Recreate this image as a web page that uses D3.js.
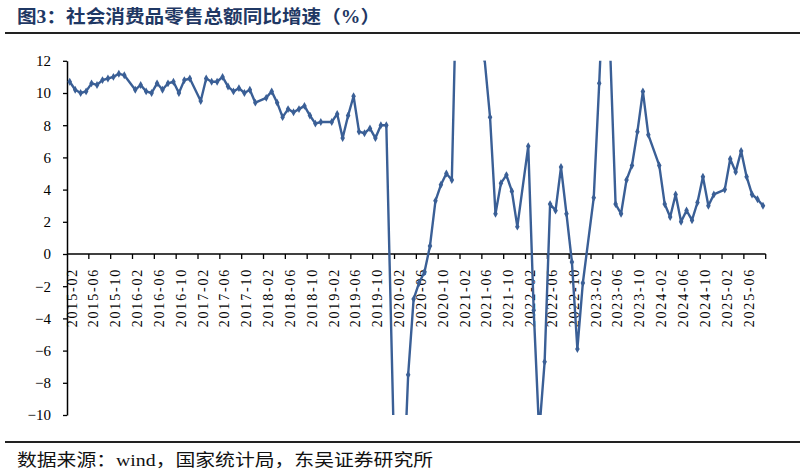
<!DOCTYPE html>
<html>
<head>
<meta charset="utf-8">
<script src="https://cdn.jsdelivr.net/npm/d3@7"></script>
<style>
  body { margin: 0; background: #fff; }
  svg { display: block; }
</style>
</head>
<body>
<div id="chart"></div>
<script>
var width = 805, height = 475;

// monthly categories, 2015-02 .. 2025-09 (January has no separate release)
var startYear = 2015, startMonth = 2, monthCount = 128;
var yTicks = [-10, -8, -6, -4, -2, 0, 2, 4, 6, 8, 10, 12];

// 社会消费品零售总额同比 (%), null = January
var yoy2015 = [10.7, 10.2, 10.0, 10.1, 10.6, 10.5, 10.8, 10.9, 11.0, 11.2, 11.1];
var yoy2016 = [null, 10.2, 10.5, 10.1, 10.0, 10.6, 10.2, 10.6, 10.7, 10.0, 10.8, 10.9];
var yoy2017 = [null, 9.5, 10.9, 10.7, 10.7, 11.0, 10.4, 10.1, 10.3, 10.0, 10.2, 9.4];
var yoy2018 = [null, 9.7, 10.1, 9.4, 8.5, 9.0, 8.8, 9.0, 9.2, 8.6, 8.1, 8.2];
var yoy2019 = [null, 8.2, 8.7, 7.2, 8.6, 9.8, 7.6, 7.5, 7.8, 7.2, 8.0, 8.0];
var yoy2020 = [null, -20.5, -15.8, -7.5, -2.8, -1.8, -1.1, 0.5, 3.3, 4.3, 5.0, 4.6];
var yoy2021 = [null, 33.8, 34.2, 17.7, 12.4, 12.1, 8.5, 2.5, 4.4, 4.9, 3.9, 1.7];
var yoy2022 = [null, 6.7, -3.5, -11.1, -6.7, 3.1, 2.7, 5.4, 2.5, -0.5, -5.9, -1.8];
var yoy2023 = [null, 3.5, 10.6, 18.4, 12.7, 3.1, 2.5, 4.6, 5.5, 7.6, 10.1, 7.4];
var yoy2024 = [null, 5.5, 3.1, 2.3, 3.7, 2.0, 2.7, 2.1, 3.2, 4.8, 3.0, 3.7];
var yoy2025 = [null, 4.0, 5.9, 5.1, 6.4, 4.8, 3.7, 3.4, 3.0];

var values = [].concat(yoy2015, yoy2016, yoy2017, yoy2018, yoy2019, yoy2020,
    yoy2021, yoy2022, yoy2023, yoy2024, yoy2025);

var months = [];
for (var i = 0; i < monthCount; i++) {
    var m = startMonth - 1 + i;
    var yr = startYear + Math.floor(m / 12);
    var mo = (m % 12) + 1;
    months.push(yr + '-' + (mo < 10 ? '0' + mo : mo));
}

var data = months.map(function (d, i) { return { month: d, value: values[i] }; })
    .filter(function (d) { return d.value != null; });

var lineColor = '#3a5f96';

var x = d3.scaleBand().domain(months).range([67, 765.7]);
var y = d3.scaleLinear().domain([-10, 12]).range([415, 60.8]);

var svg = d3.select('#chart').append('svg')
    .attr('width', width)
    .attr('height', height);

// title + rules
svg.append('text')
    .attr('x', 17).attr('y', 23)
    .attr('font-family', 'Liberation Serif, Noto Sans CJK SC')
    .attr('font-weight', 'bold')
    .attr('font-size', 18)
    .attr('fill', '#1f3864')
    .attr('textLength', 363)
    .attr('lengthAdjust', 'spacingAndGlyphs')
    .text('图3：社会消费品零售总额同比增速（%）');

svg.append('line')
    .attr('x1', 5).attr('x2', 800).attr('y1', 33).attr('y2', 33)
    .attr('stroke', '#222').attr('stroke-width', 2.2);

svg.append('line')
    .attr('x1', 5).attr('x2', 800).attr('y1', 442).attr('y2', 442)
    .attr('stroke', '#222').attr('stroke-width', 2.2);

svg.append('text')
    .attr('x', 17).attr('y', 466)
    .attr('font-family', 'Liberation Serif, Noto Sans CJK SC')
    .attr('font-size', 17)
    .attr('fill', '#111')
    .attr('textLength', 416)
    .attr('lengthAdjust', 'spacingAndGlyphs')
    .text('数据来源：wind，国家统计局，东吴证券研究所');

// y axis
var yAxis = svg.append('g')
    .attr('transform', 'translate(67,0)')
    .call(d3.axisLeft(y).tickValues(yTicks).tickSize(4).tickPadding(12).tickSizeOuter(0));
yAxis.select('.domain').attr('stroke', '#000').attr('stroke-width', 1.5);
yAxis.selectAll('.tick line').attr('stroke', '#000').attr('stroke-width', 1.3);
yAxis.selectAll('.tick text')
    .attr('font-family', 'Liberation Serif')
    .attr('font-size', 15)
    .attr('fill', '#000');

// x axis at zero
var xg = svg.append('g').attr('transform', 'translate(0,' + y(0) + ')');
xg.append('line')
    .attr('x1', x.range()[0]).attr('x2', x.range()[1])
    .attr('stroke', '#000').attr('stroke-width', 1.5);

var tickIdx = d3.range(4, monthCount + 1, 4);
xg.selectAll('line.tk')
    .data(tickIdx)
    .join('line')
    .attr('class', 'tk')
    .attr('x1', function (i) { return x.range()[0] + i * x.step(); })
    .attr('x2', function (i) { return x.range()[0] + i * x.step(); })
    .attr('y1', 0).attr('y2', 5)
    .attr('stroke', '#000').attr('stroke-width', 1.3);

var labelMonths = months.filter(function (d, i) { return i % 4 == 0; });
xg.selectAll('text')
    .data(labelMonths)
    .join('text')
    .attr('transform', function (d) {
        return 'translate(' + (x(d) + x.bandwidth() / 2 + 2) + ',14) rotate(-90)';
    })
    .attr('dy', '0.35em')
    .attr('text-anchor', 'end')
    .attr('font-family', 'Liberation Serif')
    .attr('font-size', 14)
    .attr('letter-spacing', 1.8)
    .attr('fill', '#000')
    .text(function (d) { return d; });

// plot clip
svg.append('clipPath').attr('id', 'plot')
    .append('rect')
    .attr('x', 67).attr('y', y(12))
    .attr('width', 700).attr('height', y(-10) - y(12));

var line = d3.line()
    .x(function (d) { return x(d.month) + x.bandwidth() / 2; })
    .y(function (d) { return y(d.value); });

var plot = svg.append('g').attr('clip-path', 'url(#plot)');

plot.append('path')
    .datum(data)
    .attr('fill', 'none')
    .attr('stroke', lineColor)
    .attr('stroke-width', 2.4)
    .attr('stroke-linejoin', 'round')
    .attr('d', line);

plot.selectAll('path.mk')
    .data(data)
    .join('path')
    .attr('class', 'mk')
    .attr('d', d3.symbol().type(d3.symbolDiamond).size(18))
    .attr('transform', function (d) {
        return 'translate(' + (x(d.month) + x.bandwidth() / 2) + ',' + y(d.value) + ')';
    })
    .attr('fill', lineColor);
</script>
</body>
</html>
